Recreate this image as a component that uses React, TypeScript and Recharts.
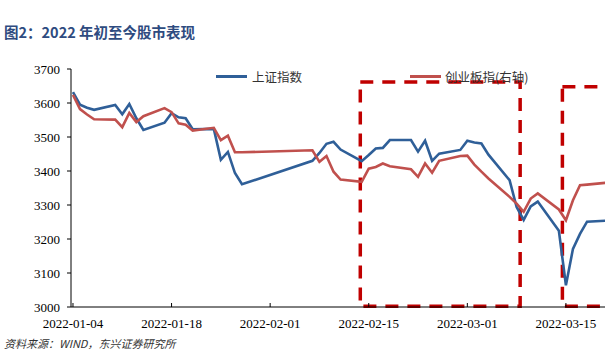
import { LineChart, Line, XAxis, YAxis, ReferenceArea } from 'recharts'

// trading days shown on the chart
const dates = [
  '2022-01-04', '2022-01-05', '2022-01-06', '2022-01-07', '2022-01-10', '2022-01-11', '2022-01-12',
  '2022-01-13', '2022-01-14', '2022-01-17', '2022-01-18', '2022-01-19', '2022-01-20', '2022-01-21',
  '2022-01-24', '2022-01-25', '2022-01-26', '2022-01-27', '2022-01-28', '2022-02-07', '2022-02-08',
  '2022-02-09', '2022-02-10', '2022-02-11', '2022-02-14', '2022-02-15', '2022-02-16', '2022-02-17',
  '2022-02-18', '2022-02-21', '2022-02-22', '2022-02-23', '2022-02-24', '2022-02-25', '2022-02-28',
  '2022-03-01', '2022-03-02', '2022-03-03', '2022-03-04', '2022-03-07', '2022-03-08', '2022-03-09',
  '2022-03-10', '2022-03-11', '2022-03-14', '2022-03-15', '2022-03-16', '2022-03-17', '2022-03-18',
  '2022-03-21',
]

// 上证指数
const shIndex = [
  3632, 3595, 3586, 3580, 3594, 3567, 3597,
  3555, 3521, 3542, 3570, 3558, 3555, 3523,
  3524, 3433, 3456, 3394, 3361, 3430, 3453,
  3480, 3486, 3463, 3429, 3447, 3466, 3468,
  3491, 3491, 3457, 3489, 3430, 3451, 3462,
  3489, 3484, 3481, 3448, 3373, 3294, 3256,
  3296, 3310, 3224, 3064, 3171, 3215, 3251,
  3254,
]

const chinext = [
  3624, 3582, 3566, 3552, 3551, 3529, 3571,
  3544, 3561, 3585, 3573, 3540, 3536, 3519,
  3527, 3491, 3504, 3455, 3455, 3461, 3427,
  3444, 3398, 3375, 3368, 3407, 3412, 3422,
  3414, 3405, 3383, 3422, 3395, 3430, 3444,
  3445, 3419, 3398, 3378, 3324, 3304, 3280,
  3319, 3334, 3287, 3255, 3314, 3358, 3360,
  3366,
]

const xTickDates = ['2022-01-04', '2022-01-18', '2022-02-01', '2022-02-15', '2022-03-01', '2022-03-15']
const yTicks = [3000, 3100, 3200, 3300, 3400, 3500, 3600, 3700]

// dashed highlight boxes, in day offsets / index units
const boxStart = [40.8, 69.5]
const boxEnd = [63.5, 80]
const boxTop = [3662, 3648]

const DAY = 86400000
const START = Date.parse('2022-01-04')
const dayOf = (d: string) => (Date.parse(d) - START) / DAY
const dateOf = (v: number) => new Date(START + Math.round(v) * DAY).toISOString().slice(0, 10)

const chartData = dates.map((d, i) => ({
  day: dayOf(d),
  sh: shIndex[i],
  cyb: chinext[i],
}))

const BLUE = '#2f5f98'
const RED = '#c0504d'
const BOX = '#c00000'
const SERIF = "'Liberation Serif', 'Times New Roman', serif"
const CJK = "'Noto Sans CJK SC', sans-serif"

const DateTick = ({ x, y, payload }: any) => (
  <g>
    <line x1={x} x2={x} y1={y} y2={y - 4} stroke="#000" />
    <text x={x} y={y + 21} textAnchor="middle" fill="#000" style={{ fontSize: 13, fontFamily: SERIF }}>
      {dateOf(payload.value)}
    </text>
  </g>
)

export default function App() {
  return (
    <div
      style={{
        position: 'fixed',
        left: 0,
        top: 0,
        width: 605,
        height: 354,
        overflow: 'hidden',
        background: '#fff',
      }}
    >
      <div
        style={{
          position: 'absolute',
          left: 4,
          top: 21,
          fontFamily: CJK,
          fontWeight: 700,
          fontSize: 14.5,
          color: '#2e4b80',
          whiteSpace: 'nowrap',
        }}
      >
        图2：2022 年初至今股市表现
      </div>

      <div style={{ position: 'absolute', left: 0, top: 0 }}>
        <LineChart width={680} height={354} data={chartData} margin={{ top: 69, right: 0, left: 0, bottom: 17 }}>
          <XAxis
            type="number"
            dataKey="day"
            domain={[-0.28, 86.2]}
            ticks={xTickDates.map(dayOf)}
            tickSize={0}
            tickMargin={0}
            tickLine={false}
            tick={<DateTick />}
            stroke="#000"
            height={30}
            allowDataOverflow
          />
          <YAxis
            yAxisId="left"
            width={71}
            domain={[3000, 3700]}
            ticks={yTicks}
            tickSize={4}
            tickMargin={7}
            tick={{ fontSize: 13, fill: '#000', style: { fontFamily: SERIF } }}
            stroke="#000"
          />
          <YAxis yAxisId="right" orientation="right" domain={[3000, 3700]} hide />
          <Line
            yAxisId="left"
            type="linear"
            dataKey="sh"
            stroke={BLUE}
            strokeWidth={2.6}
            dot={false}
            isAnimationActive={false}
          />
          <Line
            yAxisId="right"
            type="linear"
            dataKey="cyb"
            stroke={RED}
            strokeWidth={2.6}
            dot={false}
            isAnimationActive={false}
          />
          {boxStart.map((x1, i) => (
            <ReferenceArea
              key={i}
              yAxisId="left"
              x1={x1}
              x2={boxEnd[i]}
              y1={3002}
              y2={boxTop[i]}
              fill="none"
              fillOpacity={0}
              stroke={BOX}
              strokeWidth={3.5}
              strokeDasharray="13 9"
              ifOverflow="visible"
            />
          ))}
        </LineChart>
      </div>

      <div style={{ position: 'absolute', left: 216, top: 67, display: 'flex', alignItems: 'center', fontFamily: CJK, fontSize: 12.5, color: '#333', whiteSpace: 'nowrap' }}>
        <span style={{ display: 'inline-block', width: 31, height: 3, background: BLUE, marginRight: 5 }} />
        上证指数
      </div>
      <div style={{ position: 'absolute', left: 410, top: 67, display: 'flex', alignItems: 'center', fontFamily: CJK, fontSize: 12.5, color: '#333', whiteSpace: 'nowrap' }}>
        <span style={{ display: 'inline-block', width: 31, height: 3, background: RED, marginRight: 4 }} />
        创业板指(右轴)
      </div>

      <div
        style={{
          position: 'absolute',
          left: 4,
          top: 335,
          fontFamily: CJK,
          fontStyle: 'italic',
          fontSize: 11,
          color: '#333',
          whiteSpace: 'nowrap',
        }}
      >
        资料来源：WIND，东兴证券研究所
      </div>
    </div>
  )
}
